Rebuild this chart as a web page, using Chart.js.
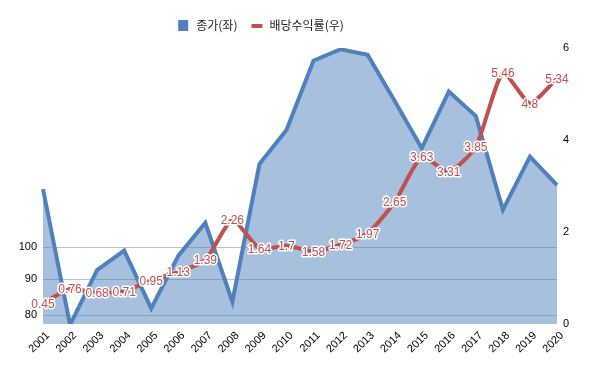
<!DOCTYPE html>
<html>
<head>
<meta charset="utf-8">
<script src="https://cdn.jsdelivr.net/npm/chart.js@4.4.1/dist/chart.umd.min.js"></script>
<style>
  html, body { margin: 0; padding: 0; background: #fff; }
  #wrap { width: 600px; height: 371px; }
</style>
</head>
<body>
<div id="wrap"><canvas id="chart"></canvas></div>
<script>
// Datos
const years = ['2001','2002','2003','2004','2005','2006','2007','2008','2009','2010',
               '2011','2012','2013','2014','2015','2016','2017','2018','2019','2020'];
const closePrice = [121.1, 77.5, 92.8, 98.9, 81.8, 97.2, 108.4, 83.6, 131.5, 147.1,
                    184.7, 191.8, 188.3, 161.8, 138.5, 166.9, 154.0, 113.1, 134.7, 122.7];
const dividendYield = [0.45, 0.76, 0.68, 0.71, 0.95, 1.13, 1.39, 2.26, 1.64, 1.7,
                       1.58, 1.72, 1.97, 2.65, 3.63, 3.31, 3.85, 5.46, 4.8, 5.34];
const leftTicks = [80, 90, 100];
const rightTicks = [0, 2, 4, 6];
const seriesNames = ['종가(좌)', '배당수익률(우)'];

const BLUE = '#4f81bd';
const RED = '#c0504d';
const NUM_FONT = "'Liberation Sans', Arial, sans-serif";
const KR_FONT = "'Noto Sans CJK KR', sans-serif";

// Etiquetas de valor sobre la linea roja, con contorno blanco
const valueLabels = {
    id: 'valueLabels',
    afterDatasetsDraw(chart) {
        const meta = chart.getDatasetMeta(1);
        const ctx = chart.ctx;
        ctx.save();
        ctx.font = '12px ' + NUM_FONT;
        ctx.textAlign = 'center';
        ctx.textBaseline = 'middle';
        ctx.lineJoin = 'round';
        meta.data.forEach((pt, i) => {
            const txt = String(dividendYield[i]);
            ctx.strokeStyle = '#fff';
            ctx.lineWidth = 3;
            ctx.strokeText(txt, pt.x, pt.y + 1);
            ctx.fillStyle = RED;
            ctx.fillText(txt, pt.x, pt.y + 1);
        });
        ctx.restore();
    }
};

// Leyenda dibujada a mano: el original no esta centrada en el lienzo
const topLegend = {
    id: 'topLegend',
    afterDraw(chart) {
        const ctx = chart.ctx;
        ctx.save();
        ctx.font = '12px ' + KR_FONT;
        ctx.textBaseline = 'middle';
        const y = 25;
        const w0 = ctx.measureText(seriesNames[0]).width;
        const w1 = ctx.measureText(seriesNames[1]).width;
        const total = 10 + 8 + w0 + 14 + 11 + 7 + w1;
        let x = 261 - total / 2;
        ctx.fillStyle = BLUE;
        ctx.fillRect(x, y - 5, 10, 11);
        x += 18;
        ctx.fillStyle = '#222';
        ctx.fillText(seriesNames[0], x, y);
        x += w0 + 14;
        ctx.fillStyle = RED;
        ctx.fillRect(x, y - 1, 11, 4);
        x += 18;
        ctx.fillStyle = '#222';
        ctx.fillText(seriesNames[1], x, y);
        ctx.restore();
    }
};

new Chart(document.getElementById('chart'), {
    type: 'line',
    data: {
        labels: years,
        datasets: [{
            label: seriesNames[0],
            data: closePrice,
            yAxisID: 'yLeft',
            borderColor: BLUE,
            backgroundColor: 'rgba(79,129,189,0.5)',
            borderWidth: 4,
            fill: 'start',
            pointRadius: 0,
            tension: 0,
            order: 2
        }, {
            label: seriesNames[1],
            data: dividendYield,
            yAxisID: 'yRight',
            borderColor: RED,
            backgroundColor: RED,
            borderWidth: 4,
            fill: false,
            pointRadius: 0,
            tension: 0.2,
            order: 1
        }]
    },
    options: {
        responsive: true,
        maintainAspectRatio: false,
        animation: false,
        layout: { padding: { top: 48, right: 0, left: 0, bottom: 0 } },
        plugins: {
            tooltip: { enabled: false },
            legend: { display: false }
        },
        scales: {
            x: {
                grid: { display: false, drawTicks: false },
                border: { display: false },
                ticks: {
                    color: '#000',
                    font: { family: NUM_FONT, size: 11 },
                    minRotation: 45,
                    maxRotation: 45,
                    autoSkip: false,
                    labelOffset: 5,
                    padding: 5
                },
                afterFit: (s) => { s.height = 47; }
            },
            yLeft: {
                type: 'logarithmic',
                position: 'left',
                min: 77.7,
                max: 192.6,
                afterBuildTicks: (s) => { s.ticks = leftTicks.map(v => ({ value: v })); },
                grid: { color: '#c0c0c0', drawTicks: false },
                border: { display: false },
                ticks: {
                    color: '#000',
                    font: { family: NUM_FONT, size: 11 },
                    padding: 6,
                    callback: (v) => String(v)
                },
                afterFit: (s) => { s.width = 43; }
            },
            yRight: {
                position: 'right',
                min: 0,
                max: 6,
                afterBuildTicks: (s) => { s.ticks = rightTicks.map(v => ({ value: v })); },
                grid: { display: false, drawTicks: false },
                border: { display: false },
                ticks: {
                    color: '#000',
                    font: { family: NUM_FONT, size: 11 },
                    padding: 6
                },
                afterFit: (s) => { s.width = 43; }
            }
        }
    },
    plugins: [valueLabels, topLegend]
});
</script>
</body>
</html>
